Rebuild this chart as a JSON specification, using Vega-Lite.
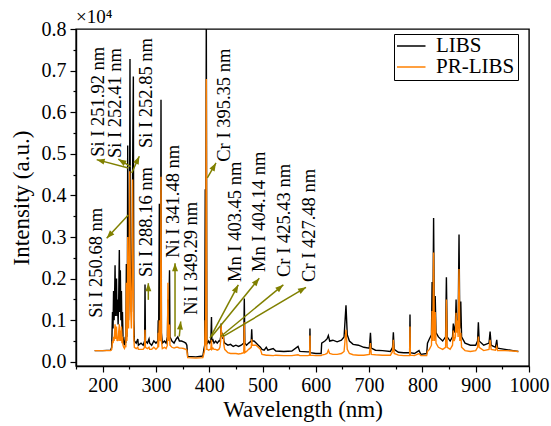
{
"$schema": "https://vega.github.io/schema/vega-lite/v6.json",
"width": 453, "height": 337,
"autosize": {"type": "none"},
"padding": {"left": 76, "top": 29, "right": 22, "bottom": 60},
"background": "white",
"title": {"text": "×10⁴", "anchor": "start", "frame": "group", "font": "Liberation Serif", "fontSize": 19, "fontWeight": "normal", "offset": -8, "color": "black"},
"config": {"view": {"stroke": "black", "strokeWidth": 1.4}, "font": "Liberation Serif"},
"datasets": {
"spec": [
{"wl":185,"LIBS":0.027,"PR-LIBS":0.027},{"wl":200,"LIBS":0.027,"PR-LIBS":0.027},{"wl":215,"LIBS":0.028,"PR-LIBS":0.027},{"wl":217,"LIBS":0.035,"PR-LIBS":0.03},
{"wl":218.5,"LIBS":0.12,"PR-LIBS":0.05},{"wl":219.5,"LIBS":0.08,"PR-LIBS":0.045},{"wl":220.5,"LIBS":0.17,"PR-LIBS":0.06},{"wl":221.5,"LIBS":0.1,"PR-LIBS":0.05},
{"wl":222.5,"LIBS":0.16,"PR-LIBS":0.07},{"wl":223.3,"LIBS":0.232,"PR-LIBS":0.09},{"wl":224.2,"LIBS":0.11,"PR-LIBS":0.055},{"wl":225,"LIBS":0.18,"PR-LIBS":0.07},
{"wl":226,"LIBS":0.2,"PR-LIBS":0.085},{"wl":227,"LIBS":0.11,"PR-LIBS":0.05},{"wl":228,"LIBS":0.15,"PR-LIBS":0.06},{"wl":229,"LIBS":0.09,"PR-LIBS":0.05},
{"wl":230,"LIBS":0.14,"PR-LIBS":0.07},{"wl":231.3,"LIBS":0.269,"PR-LIBS":0.09},{"wl":232.2,"LIBS":0.12,"PR-LIBS":0.05},{"wl":233.2,"LIBS":0.22,"PR-LIBS":0.075},
{"wl":234.2,"LIBS":0.1,"PR-LIBS":0.05},{"wl":235.2,"LIBS":0.17,"PR-LIBS":0.085},{"wl":236.2,"LIBS":0.08,"PR-LIBS":0.045},{"wl":237.2,"LIBS":0.12,"PR-LIBS":0.06},
{"wl":238.2,"LIBS":0.06,"PR-LIBS":0.04},{"wl":239.5,"LIBS":0.045,"PR-LIBS":0.035},{"wl":241,"LIBS":0.04,"PR-LIBS":0.032},{"wl":242.5,"LIBS":0.06,"PR-LIBS":0.04},
{"wl":243.5,"LIBS":0.045,"PR-LIBS":0.035},{"wl":244.5,"LIBS":0.235,"PR-LIBS":0.19},{"wl":245.5,"LIBS":0.06,"PR-LIBS":0.05},{"wl":246.3,"LIBS":0.1,"PR-LIBS":0.08},
{"wl":247,"LIBS":0.52,"PR-LIBS":0.3},{"wl":247.8,"LIBS":0.2,"PR-LIBS":0.15},{"wl":248.6,"LIBS":0.1,"PR-LIBS":0.08},{"wl":249.6,"LIBS":0.2,"PR-LIBS":0.18},
{"wl":250.7,"LIBS":0.46,"PR-LIBS":0.458},{"wl":251.3,"LIBS":0.728,"PR-LIBS":0.3},{"wl":252,"LIBS":0.3,"PR-LIBS":0.2},{"wl":252.8,"LIBS":0.15,"PR-LIBS":0.12},
{"wl":254,"LIBS":0.12,"PR-LIBS":0.08},{"wl":255.3,"LIBS":0.25,"PR-LIBS":0.2},{"wl":256.2,"LIBS":0.45,"PR-LIBS":0.438},{"wl":257.6,"LIBS":0.686,"PR-LIBS":0.2},
{"wl":258.5,"LIBS":0.1,"PR-LIBS":0.06},{"wl":259.5,"LIBS":0.05,"PR-LIBS":0.035},{"wl":263,"LIBS":0.045,"PR-LIBS":0.032},{"wl":266,"LIBS":0.055,"PR-LIBS":0.035},
{"wl":267,"LIBS":0.04,"PR-LIBS":0.03},{"wl":272,"LIBS":0.045,"PR-LIBS":0.03},{"wl":276,"LIBS":0.04,"PR-LIBS":0.03},{"wl":278.8,"LIBS":0.05,"PR-LIBS":0.035},
{"wl":279.5,"LIBS":0.186,"PR-LIBS":0.077},{"wl":280.3,"LIBS":0.05,"PR-LIBS":0.035},{"wl":284,"LIBS":0.045,"PR-LIBS":0.032},{"wl":287,"LIBS":0.055,"PR-LIBS":0.035},
{"wl":288.2,"LIBS":0.045,"PR-LIBS":0.03},{"wl":292,"LIBS":0.04,"PR-LIBS":0.03},{"wl":296,"LIBS":0.05,"PR-LIBS":0.035},{"wl":300,"LIBS":0.045,"PR-LIBS":0.03},
{"wl":303.5,"LIBS":0.05,"PR-LIBS":0.035},{"wl":304.3,"LIBS":0.1,"PR-LIBS":0.07},{"wl":305,"LIBS":0.05,"PR-LIBS":0.035},{"wl":306.4,"LIBS":0.38,"PR-LIBS":0.1},
{"wl":307.2,"LIBS":0.08,"PR-LIBS":0.06},{"wl":308.6,"LIBS":0.07,"PR-LIBS":0.05},{"wl":309.5,"LIBS":0.63,"PR-LIBS":0.445},{"wl":310.3,"LIBS":0.07,"PR-LIBS":0.05},
{"wl":312,"LIBS":0.045,"PR-LIBS":0.032},{"wl":316,"LIBS":0.05,"PR-LIBS":0.035},{"wl":319,"LIBS":0.045,"PR-LIBS":0.032},{"wl":321.5,"LIBS":0.06,"PR-LIBS":0.04},
{"wl":322.5,"LIBS":0.15,"PR-LIBS":0.19},{"wl":323.3,"LIBS":0.06,"PR-LIBS":0.05},{"wl":325.5,"LIBS":0.22,"PR-LIBS":0.09},{"wl":326.3,"LIBS":0.06,"PR-LIBS":0.04},
{"wl":330,"LIBS":0.05,"PR-LIBS":0.035},{"wl":334,"LIBS":0.045,"PR-LIBS":0.033},{"wl":338,"LIBS":0.055,"PR-LIBS":0.035},{"wl":341,"LIBS":0.06,"PR-LIBS":0.035},
{"wl":344,"LIBS":0.05,"PR-LIBS":0.033},{"wl":348,"LIBS":0.05,"PR-LIBS":0.033},{"wl":352,"LIBS":0.048,"PR-LIBS":0.032},{"wl":356,"LIBS":0.045,"PR-LIBS":0.03},
{"wl":358,"LIBS":0.04,"PR-LIBS":0.028},{"wl":359.6,"LIBS":0.013,"PR-LIBS":0.01},{"wl":375,"LIBS":0.012,"PR-LIBS":0.009},{"wl":388,"LIBS":0.014,"PR-LIBS":0.01},
{"wl":390,"LIBS":0.03,"PR-LIBS":0.02},{"wl":391.5,"LIBS":0.04,"PR-LIBS":0.03},{"wl":392.5,"LIBS":0.415,"PR-LIBS":0.1},{"wl":393.3,"LIBS":0.06,"PR-LIBS":0.04},
{"wl":394.5,"LIBS":0.85,"PR-LIBS":0.68},{"wl":395.5,"LIBS":0.05,"PR-LIBS":0.03},{"wl":397,"LIBS":0.045,"PR-LIBS":0.03},{"wl":399,"LIBS":0.05,"PR-LIBS":0.028},
{"wl":401,"LIBS":0.045,"PR-LIBS":0.03},{"wl":403,"LIBS":0.05,"PR-LIBS":0.03},{"wl":404.2,"LIBS":0.108,"PR-LIBS":0.053},{"wl":405,"LIBS":0.05,"PR-LIBS":0.03},
{"wl":407,"LIBS":0.053,"PR-LIBS":0.033},{"wl":409,"LIBS":0.045,"PR-LIBS":0.03},{"wl":412,"LIBS":0.05,"PR-LIBS":0.03},{"wl":415,"LIBS":0.045,"PR-LIBS":0.028},
{"wl":418,"LIBS":0.05,"PR-LIBS":0.03},{"wl":420,"LIBS":0.05,"PR-LIBS":0.035},{"wl":421.5,"LIBS":0.06,"PR-LIBS":0.05},{"wl":422.3,"LIBS":0.092,"PR-LIBS":0.09},
{"wl":423.2,"LIBS":0.06,"PR-LIBS":0.06},{"wl":424.5,"LIBS":0.07,"PR-LIBS":0.065},{"wl":425.5,"LIBS":0.055,"PR-LIBS":0.06},{"wl":426.5,"LIBS":0.065,"PR-LIBS":0.06},
{"wl":427.5,"LIBS":0.05,"PR-LIBS":0.04},{"wl":429,"LIBS":0.045,"PR-LIBS":0.03},{"wl":435,"LIBS":0.04,"PR-LIBS":0.022},{"wl":440,"LIBS":0.042,"PR-LIBS":0.02},
{"wl":445,"LIBS":0.037,"PR-LIBS":0.02},{"wl":450,"LIBS":0.04,"PR-LIBS":0.02},{"wl":455,"LIBS":0.037,"PR-LIBS":0.019},{"wl":460,"LIBS":0.04,"PR-LIBS":0.02},
{"wl":464.8,"LIBS":0.045,"PR-LIBS":0.022},{"wl":465.8,"LIBS":0.152,"PR-LIBS":0.095},{"wl":466.8,"LIBS":0.045,"PR-LIBS":0.022},{"wl":470,"LIBS":0.04,"PR-LIBS":0.025},
{"wl":474,"LIBS":0.045,"PR-LIBS":0.03},{"wl":478.8,"LIBS":0.05,"PR-LIBS":0.035},{"wl":479.7,"LIBS":0.078,"PR-LIBS":0.054},{"wl":480.6,"LIBS":0.05,"PR-LIBS":0.04},
{"wl":484,"LIBS":0.05,"PR-LIBS":0.04},{"wl":488,"LIBS":0.045,"PR-LIBS":0.04},{"wl":492,"LIBS":0.04,"PR-LIBS":0.035},{"wl":496,"LIBS":0.035,"PR-LIBS":0.03},
{"wl":499,"LIBS":0.03,"PR-LIBS":0.018},{"wl":503,"LIBS":0.028,"PR-LIBS":0.017},{"wl":507,"LIBS":0.035,"PR-LIBS":0.016},{"wl":510,"LIBS":0.028,"PR-LIBS":0.016},
{"wl":520,"LIBS":0.032,"PR-LIBS":0.015},{"wl":525,"LIBS":0.026,"PR-LIBS":0.016},{"wl":540,"LIBS":0.025,"PR-LIBS":0.015},{"wl":555,"LIBS":0.026,"PR-LIBS":0.015},
{"wl":566.6,"LIBS":0.037,"PR-LIBS":0.017},{"wl":570,"LIBS":0.025,"PR-LIBS":0.015},{"wl":585,"LIBS":0.024,"PR-LIBS":0.015},{"wl":588.4,"LIBS":0.024,"PR-LIBS":0.016},
{"wl":589,"LIBS":0.08,"PR-LIBS":0.063},{"wl":589.6,"LIBS":0.022,"PR-LIBS":0.016},{"wl":600,"LIBS":0.02,"PR-LIBS":0.015},{"wl":610,"LIBS":0.02,"PR-LIBS":0.015},
{"wl":611,"LIBS":0.045,"PR-LIBS":0.016},{"wl":617,"LIBS":0.05,"PR-LIBS":0.018},{"wl":621,"LIBS":0.055,"PR-LIBS":0.02},{"wl":623.5,"LIBS":0.063,"PR-LIBS":0.028},
{"wl":626,"LIBS":0.05,"PR-LIBS":0.02},{"wl":632,"LIBS":0.052,"PR-LIBS":0.018},{"wl":640,"LIBS":0.048,"PR-LIBS":0.018},{"wl":648,"LIBS":0.052,"PR-LIBS":0.02},
{"wl":653,"LIBS":0.06,"PR-LIBS":0.025},{"wl":656.6,"LIBS":0.136,"PR-LIBS":0.077},{"wl":659,"LIBS":0.065,"PR-LIBS":0.03},{"wl":663,"LIBS":0.05,"PR-LIBS":0.02},
{"wl":670,"LIBS":0.042,"PR-LIBS":0.017},{"wl":680,"LIBS":0.04,"PR-LIBS":0.016},{"wl":690,"LIBS":0.035,"PR-LIBS":0.016},{"wl":700.5,"LIBS":0.033,"PR-LIBS":0.018},
{"wl":702.5,"LIBS":0.07,"PR-LIBS":0.045},{"wl":704,"LIBS":0.033,"PR-LIBS":0.018},{"wl":712,"LIBS":0.028,"PR-LIBS":0.017},{"wl":725,"LIBS":0.027,"PR-LIBS":0.016},
{"wl":740,"LIBS":0.025,"PR-LIBS":0.016},{"wl":744,"LIBS":0.035,"PR-LIBS":0.025},{"wl":745.5,"LIBS":0.071,"PR-LIBS":0.053},{"wl":747,"LIBS":0.03,"PR-LIBS":0.02},
{"wl":755,"LIBS":0.023,"PR-LIBS":0.016},{"wl":765,"LIBS":0.022,"PR-LIBS":0.015},{"wl":776,"LIBS":0.022,"PR-LIBS":0.015},{"wl":776.7,"LIBS":0.114,"PR-LIBS":0.085},
{"wl":777.4,"LIBS":0.022,"PR-LIBS":0.016},{"wl":785,"LIBS":0.02,"PR-LIBS":0.015},{"wl":793.6,"LIBS":0.027,"PR-LIBS":0.02},{"wl":797,"LIBS":0.018,"PR-LIBS":0.015},
{"wl":808,"LIBS":0.02,"PR-LIBS":0.015},{"wl":809.5,"LIBS":0.045,"PR-LIBS":0.025},{"wl":813,"LIBS":0.055,"PR-LIBS":0.03},{"wl":817,"LIBS":0.065,"PR-LIBS":0.04},
{"wl":818.2,"LIBS":0.192,"PR-LIBS":0.122},{"wl":819.5,"LIBS":0.08,"PR-LIBS":0.05},{"wl":821,"LIBS":0.346,"PR-LIBS":0.263},{"wl":822.5,"LIBS":0.08,"PR-LIBS":0.05},
{"wl":824,"LIBS":0.158,"PR-LIBS":0.12},{"wl":825.5,"LIBS":0.07,"PR-LIBS":0.045},{"wl":830,"LIBS":0.06,"PR-LIBS":0.035},{"wl":838,"LIBS":0.05,"PR-LIBS":0.03},
{"wl":843.5,"LIBS":0.06,"PR-LIBS":0.035},{"wl":845,"LIBS":0.203,"PR-LIBS":0.15},{"wl":846.5,"LIBS":0.06,"PR-LIBS":0.035},{"wl":852,"LIBS":0.05,"PR-LIBS":0.03},
{"wl":856.5,"LIBS":0.06,"PR-LIBS":0.04},{"wl":858,"LIBS":0.092,"PR-LIBS":0.075},{"wl":859.5,"LIBS":0.07,"PR-LIBS":0.05},{"wl":862,"LIBS":0.09,"PR-LIBS":0.06},
{"wl":863.2,"LIBS":0.15,"PR-LIBS":0.118},{"wl":864.3,"LIBS":0.08,"PR-LIBS":0.07},{"wl":865.6,"LIBS":0.1,"PR-LIBS":0.1},{"wl":867,"LIBS":0.08,"PR-LIBS":0.06},
{"wl":868.7,"LIBS":0.306,"PR-LIBS":0.223},{"wl":870.2,"LIBS":0.08,"PR-LIBS":0.05},{"wl":872,"LIBS":0.145,"PR-LIBS":0.07},{"wl":873.5,"LIBS":0.06,"PR-LIBS":0.035},
{"wl":880,"LIBS":0.045,"PR-LIBS":0.027},{"wl":890,"LIBS":0.04,"PR-LIBS":0.025},{"wl":900,"LIBS":0.04,"PR-LIBS":0.027},{"wl":903.5,"LIBS":0.05,"PR-LIBS":0.035},
{"wl":905,"LIBS":0.095,"PR-LIBS":0.061},{"wl":906.5,"LIBS":0.05,"PR-LIBS":0.035},{"wl":915,"LIBS":0.04,"PR-LIBS":0.027},{"wl":925,"LIBS":0.045,"PR-LIBS":0.03},
{"wl":927,"LIBS":0.073,"PR-LIBS":0.053},{"wl":929,"LIBS":0.04,"PR-LIBS":0.03},{"wl":937,"LIBS":0.035,"PR-LIBS":0.028},{"wl":939.5,"LIBS":0.053,"PR-LIBS":0.037},
{"wl":941,"LIBS":0.033,"PR-LIBS":0.027},{"wl":955,"LIBS":0.03,"PR-LIBS":0.027},{"wl":970,"LIBS":0.027,"PR-LIBS":0.026},{"wl":980,"LIBS":0.025,"PR-LIBS":0.025}
],
"labels": [
{"label":"Si I 251.92 nm","x":191.3,"y":0.493},{"label":"Si I 252.41 nm","x":223.2,"y":0.49},{"label":"Si I 252.85 nm","x":281.3,"y":0.514},
{"label":"Cr I 395.35 nm","x":426.8,"y":0.481},{"label":"Si I 250.68 nm","x":187.5,"y":0.106},{"label":"Si I 288.16 nm","x":281.3,"y":0.204},
{"label":"Ni I 341.48 nm","x":331.1,"y":0.25},{"label":"Ni I 349.29 nm","x":365.8,"y":0.113},{"label":"Mn I 403.45 nm","x":448.3,"y":0.192},
{"label":"Mn I 404.14 nm","x":494.3,"y":0.216},{"label":"Cr I 425.43 nm","x":539.4,"y":0.204},{"label":"Cr I 427.48 nm","x":586.3,"y":0.192}
],
"arrows": [
{"x1":248.1,"y1":0.466,"x2":188.8,"y2":0.486},{"x1":252.6,"y1":0.469,"x2":229.4,"y2":0.487},{"x1":254.5,"y1":0.454,"x2":268.8,"y2":0.494},
{"x1":396.4,"y1":0.442,"x2":412.7,"y2":0.478},{"x1":248.1,"y1":0.353,"x2":207.6,"y2":0.297},{"x1":285.7,"y1":0.149,"x2":285.7,"y2":0.189},
{"x1":335.8,"y1":0.061,"x2":335.8,"y2":0.237},{"x1":343.8,"y1":0.061,"x2":346.5,"y2":0.097},{"x1":401.4,"y1":0.057,"x2":454.5,"y2":0.185},
{"x1":404.6,"y1":0.061,"x2":493.9,"y2":0.201},{"x1":421.5,"y1":0.061,"x2":539,"y2":0.185},{"x1":426.4,"y1":0.061,"x2":581.6,"y2":0.179}
]
},
"layer": [
{
"data": {"name": "spec"},
"transform": [{"fold": ["LIBS", "PR-LIBS"], "as": ["series", "value"]}],
"mark": {"type": "line", "strokeWidth": 1.4, "clip": true},
"encoding": {
"x": {"field": "wl", "type": "quantitative", "scale": {"domain": [150, 1000], "nice": false, "zero": false},
 "axis": {"orient": "bottom", "title": "Wavelength (nm)", "values": [200,300,400,500,600,700,800,900,1000], "format": "d", "grid": false, "tickSize": 6, "tickColor": "black", "tickWidth": 1.2, "domainColor": "black", "domainWidth": 1.4, "labelFont": "Liberation Serif", "labelFontSize": 20, "labelColor": "black", "labelPadding": 3, "labelFlush": false, "titleFont": "Liberation Serif", "titleFontSize": 23, "titleFontWeight": "normal", "titleColor": "black", "titlePadding": 3}},
"y": {"field": "value", "type": "quantitative", "scale": {"domain": [-0.01, 0.8], "nice": false, "zero": false},
 "axis": {"orient": "left", "title": "Intensity (a.u.)", "values": [0,0.1,0.2,0.3,0.4,0.5,0.6,0.7,0.8], "format": ".1f", "grid": false, "tickSize": 6, "tickColor": "black", "tickWidth": 1.2, "domainColor": "black", "domainWidth": 1.4, "labelFont": "Liberation Serif", "labelFontSize": 20, "labelColor": "black", "labelPadding": 4, "labelFlush": false, "titleFont": "Liberation Serif", "titleFontSize": 23, "titleFontWeight": "normal", "titleColor": "black", "titlePadding": 8}},
"color": {"field": "series", "type": "nominal", "scale": {"domain": ["LIBS", "PR-LIBS"], "range": ["#000000", "#ff8000"]},
 "legend": {"orient": "none", "legendX": 318, "legendY": 5, "title": null, "strokeColor": "black", "fillColor": "white", "padding": 3, "labelFont": "Liberation Serif", "labelFontSize": 21, "labelColor": "black", "symbolType": "M-3,0H3", "symbolSize": 144, "symbolStrokeWidth": 1.5, "labelOffset": 18, "rowPadding": 0, "clipHeight": 18}}
}
},
{
"data": {"name": "arrows"},
"mark": {"type": "rule", "color": "#808000", "strokeWidth": 1.5},
"encoding": {
"x": {"field": "x1", "type": "quantitative", "axis": {"orient": "bottom", "values": [150,250,350,450,550,650,750,850,950], "labels": false, "tickSize": 3, "tickColor": "black", "tickWidth": 1.2, "domain": false, "grid": false, "title": null}},
"y": {"field": "y1", "type": "quantitative", "axis": {"orient": "left", "values": [0.05,0.15,0.25,0.35,0.45,0.55,0.65,0.75], "labels": false, "tickSize": 3, "tickColor": "black", "tickWidth": 1.2, "domain": false, "grid": false, "title": null}},
"x2": {"field": "x2"},
"y2": {"field": "y2"}
}
},
{
"data": {"name": "arrows"},
"transform": [{"calculate": "atan2((datum.x2 - datum.x1) * 0.53294, (datum.y2 - datum.y1) * 416) * 180 / PI", "as": "ang"}],
"mark": {"type": "point", "shape": "M0,0L0.6,1.6L-0.6,1.6Z", "filled": true, "color": "#808000", "opacity": 1, "size": 100},
"encoding": {
"x": {"field": "x2", "type": "quantitative", "axis": null},
"y": {"field": "y2", "type": "quantitative", "axis": null},
"angle": {"field": "ang", "type": "quantitative", "scale": null}
}
},
{
"data": {"name": "labels"},
"mark": {"type": "text", "angle": 270, "align": "left", "baseline": "middle", "font": "Liberation Serif", "fontSize": 18.5, "color": "black"},
"encoding": {
"x": {"field": "x", "type": "quantitative", "axis": null},
"y": {"field": "y", "type": "quantitative", "axis": null},
"text": {"field": "label"}
}
}
],
"resolve": {"axis": {"x": "independent", "y": "independent"}}
}
